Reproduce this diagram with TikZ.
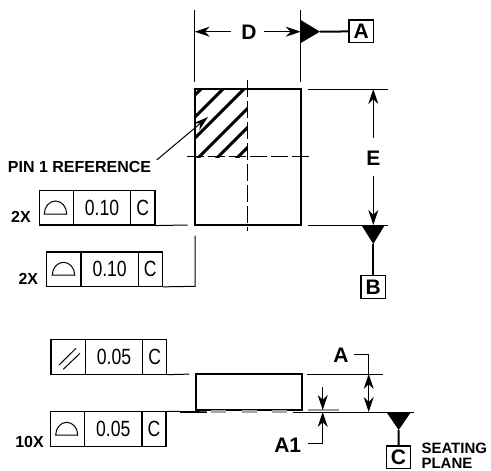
\documentclass[tikz,border=0pt]{standalone}
\usepackage{fontspec}
\setmainfont{Liberation Sans}
\newfontfamily\narrowfont[FakeStretch=0.8]{Liberation Sans}
\usepackage{tikz}
\usetikzlibrary{arrows.meta}
\tikzset{
  thinline/.style={line width=1pt},
  body/.style={line width=2pt},
  centerline/.style={line width=1pt, dash pattern=on 17pt off 4pt},
  datum/.style={line width=2pt},
  dimarrow/.style={line width=1pt, -{Stealth[length=15pt,width=10pt]}},
  cell/.style={draw, line width=1.1pt, inner sep=0pt, minimum height=34.3pt, font=\narrowfont\fontsize{22}{22}\selectfont},
  letterbox/.style={draw, line width=1.2pt, inner sep=0pt, minimum width=24.5pt, minimum height=22.7pt, font=\fontsize{21}{21}\selectfont\bfseries},
  biglabel/.style={inner sep=0pt, font=\fontsize{21}{21}\selectfont\bfseries},
  smalllabel/.style={inner sep=0pt, font=\fontsize{16}{16}\selectfont\bfseries},
  seatlabel/.style={inner sep=0pt, anchor=west, font=\fontsize{15}{15}\selectfont\bfseries},
  sym/.style={line width=1pt}
}
\begin{document}
\begin{tikzpicture}[x=1pt, y=-1pt]
                \useasboundingbox (0, 0) rectangle (491, 471);

                % Top view: hatched corner
                \begin{scope}
                    \clip (195, 89) rectangle (247.5, 157);
                    \foreach \c in {290, 312, 333, 356, 375, 395}
                        \draw[line width=3pt] (190, \c-190) -- (250, \c-250);
                \end{scope}
                \draw[body] (195, 89) rectangle (301, 225);
                \draw[centerline] (247.7, 80) -- (247.7, 231);
                \draw[centerline] (187, 156.7) -- (311, 156.7);

                % Dimension D and datum A
                \coordinate (dl1) at (194.7, 10);
                \coordinate (dl2) at (194.7, 82);
                \coordinate (dr1) at (300.7, 10);
                \coordinate (dr2) at (300.7, 82);
                \coordinate (dlt) at (194.7, 31.7);
                \coordinate (drt) at (300.7, 31.7);
                \coordinate (dls) at (231, 31.7);
                \coordinate (drs) at (264, 31.7);
                \coordinate (triA) at (320, 31.7);
                \draw[thinline] (dl1) -- (dl2);
                \draw[thinline] (dr1) -- (dr2);
                \node[biglabel] (labD) at (249, 32) {D};
                \draw[dimarrow] (dls) -- (dlt);
                \draw[dimarrow] (drs) -- (drt);
                \fill (300.7, 20) -- (triA) -- (300.7, 43) -- cycle;
                \node[letterbox] (boxA) at (361.3, 31.3) {A};
                \draw[datum] (triA) -- (boxA);

                % Dimension E and datum B
                \coordinate (et1) at (307.7, 89);
                \coordinate (et2) at (388, 89);
                \coordinate (eb1) at (307.7, 225);
                \coordinate (eb2) at (388, 225);
                \coordinate (ett) at (373.3, 89);
                \coordinate (ebt) at (373.3, 225);
                \coordinate (ets) at (373.3, 137.7);
                \coordinate (ebs) at (373.3, 176);
                \coordinate (triB) at (373.3, 244);
                \draw[thinline] (et1) -- (et2);
                \draw[thinline] (eb1) -- (eb2);
                \node[biglabel] (labE) at (373.3, 158.7) {E};
                \draw[dimarrow] (ets) -- (ett);
                \draw[dimarrow] (ebs) -- (ebt);
                \fill (361.7, 225.5) -- (384.5, 225.5) -- (triB) -- cycle;
                \node[letterbox] (boxB) at (373.3, 287) {B};
                \draw[datum] (triB) -- (boxB);

                % Pin 1 leader
                \node[smalllabel] (pin) at (79.5, 166.5) {PIN 1 REFERENCE};
                \coordinate (pinstart) at (156.7, 160);
                \coordinate (pintip) at (208, 117);
                \draw[thinline, -{Stealth[length=15pt,width=9pt]}] (pinstart) -- (pintip);

                % Frame 1
                \node[cell, minimum width=34pt] (fa) at (56.3, 207.85) {};
                \node[cell, minimum width=57.4pt] (fb) at (102, 207.85) {0.10};
                \node[cell, minimum width=24.3pt] (fc) at (142.85, 207.85) {C};
                \node[smalllabel] (xa) at (21, 216.5) {2X};
                \coordinate (enda) at (187.7, 225);
                \draw[thinline] (fc.south east) -- (enda);
                \draw[sym] (44.3, 214) arc[start angle=180, end angle=360, x radius=11.2, y radius=13] -- cycle;

                % Frame 2
                \node[cell, minimum width=34.3pt] (ga) at (63.85, 269.15) {};
                \node[cell, minimum width=57.3pt] (gb) at (109.65, 269.15) {0.10};
                \node[cell, minimum width=24pt] (gc) at (150.3, 269.15) {C};
                \node[smalllabel] (xb) at (28.3, 278.5) {2X};
                \coordinate (cornerb) at (195, 286.3);
                \coordinate (endb) at (195, 235.7);
                \draw[thinline] (gc.south east) -- (cornerb) -- (endb);
                \draw[sym] (52.3, 275) arc[start angle=180, end angle=360, x radius=11.2, y radius=12.7] -- cycle;

                % Frame 3
                \node[cell, minimum width=34.3pt] (ha) at (68.15, 357) {};
                \node[cell, minimum width=57.4pt] (hb) at (114, 357) {0.05};
                \node[cell, minimum width=24pt] (hc) at (154.7, 357) {C};
                \coordinate (endc) at (189.3, 374.1);
                \draw[thinline] (hc.south east) -- (endc);
                \draw[sym] (59, 365) -- (76, 348.3);
                \draw[sym] (63.3, 369.3) -- (80, 353.3);

                % Frame 4
                \node[cell, minimum width=34.4pt] (ia) at (67.45, 429) {};
                \node[cell, minimum width=57.3pt] (ib) at (113.3, 429) {0.05};
                \node[cell, minimum width=24pt] (ic) at (154, 429) {C};
                \node[smalllabel] (xc) at (29.5, 441.5) {10X};
                \coordinate (endd) at (206.7, 411.85);
                \draw[thinline] (ic.north east) -- (endd);
                \draw[sym] (55.7, 435) arc[start angle=180, end angle=360, x radius=11, y radius=12.7] -- cycle;

                % Side view
                \draw[body] (195.7, 374) rectangle (301.7, 410);
                \foreach \x in {211, 241.7, 271.7}
                    \fill[gray!70] (\x, 410) rectangle (\x+15, 413);
                \draw[gray!80, line width=1.4pt] (308.3, 410) -- (339.3, 410);

                % Dimension A
                \coordinate (at1) at (307.3, 374);
                \coordinate (at2) at (382.7, 374);
                \coordinate (sp1) at (292.7, 412);
                \coordinate (sp2) at (414, 412);
                \coordinate (ata) at (368.7, 374);
                \coordinate (atb) at (368.7, 412);
                \coordinate (atm) at (368.7, 393);
                \coordinate (atc) at (368.7, 354);
                \coordinate (triC) at (398.7, 430);
                \draw[thinline] (at1) -- (at2);
                \draw[thinline] (sp1) -- (sp2);
                \node[biglabel] (labA) at (341, 355) {A};
                \draw[thinline] (354.3, 354) -- (atc) -- (ata);
                \draw[dimarrow] (atm) -- (ata);
                \draw[dimarrow] (atm) -- (atb);

                % Dimension A1
                \coordinate (aup) at (322.7, 387.3);
                \coordinate (aupt) at (322.7, 410);
                \coordinate (adnt) at (322.7, 412);
                \coordinate (adn) at (322.7, 443.3);
                \node[biglabel] (labAa) at (287.7, 445) {A1};
                \coordinate (adne) at (308.3, 443.3);
                \draw[dimarrow] (aup) -- (aupt);
                \draw[dimarrow] (adn) -- (adnt);
                \draw[thinline] (adne) -- (adn);

                % Datum C
                \fill (386.7, 412.5) -- (410.7, 412.5) -- (triC) -- cycle;
                \node[letterbox] (boxC) at (398.4, 457.3) {C};
                \draw[datum] (triC) -- (boxC);
                \node[seatlabel] (seat) at (421.3, 448.5) {SEATING};
                \node[seatlabel] (plane) at (421.3, 463) {PLANE};

                % Seating plane left part
                \coordinate (spl) at (180, 412);
                \coordinate (spr) at (206.7, 412);
                \draw[thinline] (spl) -- (spr);
            \end{tikzpicture}
\end{document}
